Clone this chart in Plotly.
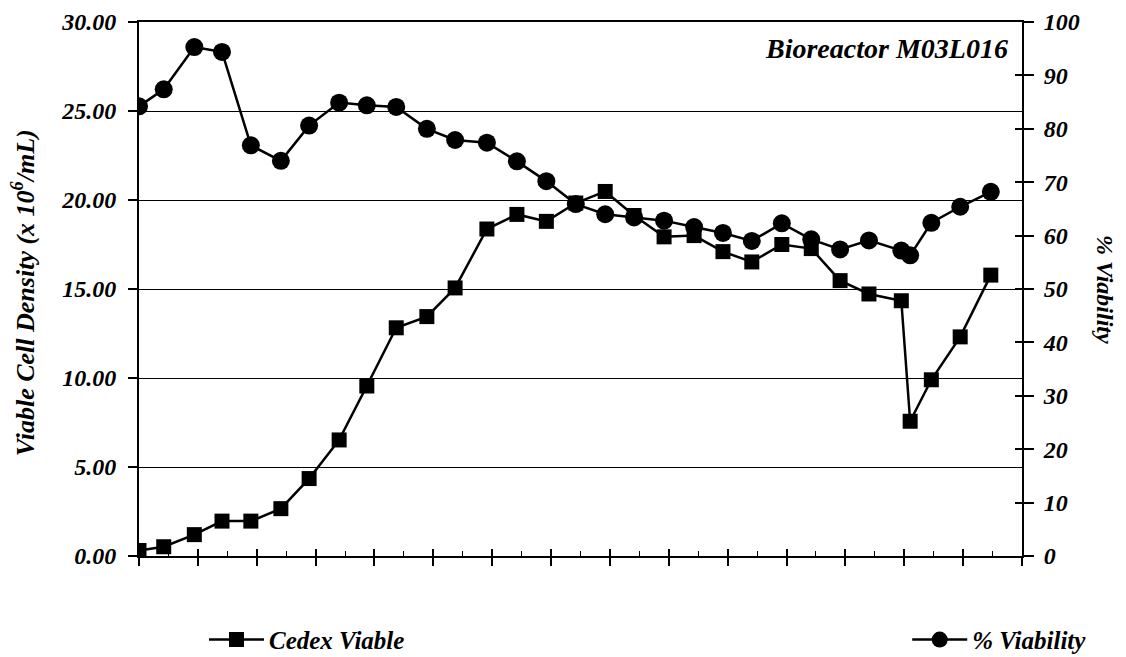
import plotly.graph_objects as go

# Sample times (days)
days = [0.00, 0.42, 0.94, 1.41, 1.90, 2.41, 2.89, 3.40, 3.87, 4.37, 4.89, 5.37,
        5.91, 6.42, 6.92, 7.42, 7.92, 8.41, 8.92, 9.43, 9.92, 10.41, 10.92,
        11.42, 11.91, 12.40, 12.95, 13.10, 13.46, 13.95, 14.47]

# Cedex viable cell density (x 10^6/mL)
cedex_viable = [0.31, 0.52, 1.20, 1.96, 1.96, 2.66, 4.35, 6.52, 9.55, 12.82, 13.45,
                15.06, 18.37, 19.19, 18.80, 19.83, 20.48, 19.13, 17.93, 18.00,
                17.10, 16.52, 17.50, 17.27, 15.47, 14.72, 14.34, 7.57, 9.90,
                12.31, 15.78]

# % Viability
viability = [84.2, 87.4, 95.3, 94.4, 76.9, 74.0, 80.6, 84.9, 84.4, 84.1, 80.0,
             77.9, 77.4, 73.9, 70.2, 65.9, 64.0, 63.4, 62.8, 61.6, 60.5, 59.0,
             62.3, 59.3, 57.4, 59.1, 57.2, 56.3, 62.4, 65.4, 68.2]

left_ticks = [0, 5, 10, 15, 20, 25, 30]
right_ticks = [0, 10, 20, 30, 40, 50, 60, 70, 80, 90, 100]

FONT = "Liberation Serif"


def bi(size):
    return dict(family=FONT, size=size, color="black", weight="bold", style="italic")


fig = go.Figure()
fig.add_trace(go.Scatter(
    x=days, y=cedex_viable, name="Cedex Viable", mode="lines+markers",
    line=dict(color="black", width=2.5),
    marker=dict(symbol="square", size=15, color="black"),
    yaxis="y", legend="legend"))
fig.add_trace(go.Scatter(
    x=days, y=viability, name="% Viability", mode="lines+markers",
    line=dict(color="black", width=2.5),
    marker=dict(symbol="circle", size=18, color="black"),
    yaxis="y2", legend="legend2"))

fig.update_layout(
    width=1118, height=680,
    margin=dict(l=131, r=104, t=14, b=132),
    paper_bgcolor="white", plot_bgcolor="white",
    font=dict(family=FONT, color="black"),
    xaxis=dict(range=[0, 15], dtick=1, tick0=0, showticklabels=False,
               ticks="outside", ticklen=8, tickwidth=1.5, tickcolor="black",
               showline=True, linecolor="black", linewidth=2, mirror=True,
               showgrid=False, zeroline=False, automargin=False,
               minor=dict(dtick=0.5, tick0=0, ticks="inside", ticklen=5,
                          tickwidth=1, tickcolor="black", showgrid=False)),
    xaxis2=dict(range=[0, 15], dtick=1, tick0=0, overlaying="x", anchor="y",
                side="bottom", showticklabels=False, ticks="inside", ticklen=7,
                tickwidth=1.5, tickcolor="black", showline=False,
                showgrid=False, zeroline=False, automargin=False),
    yaxis=dict(range=[0, 30], tickvals=left_ticks,
               ticktext=[f"{v:.2f}" for v in left_ticks],
               tickfont=bi(24), ticks="outside", ticklen=9, tickwidth=1.5,
               ticklabelstandoff=7,
               tickcolor="black", showline=True, linecolor="black", linewidth=2,
               showgrid=True, gridcolor="black", gridwidth=1.2, zeroline=False,
               automargin=False),
    yaxis2=dict(range=[0, 100], tickvals=right_ticks, overlaying="y",
                side="right", anchor="x", tickfont=bi(24), ticks="outside",
                ticklen=10, tickwidth=1.5, tickcolor="black", showline=True,
                ticklabelstandoff=5,
                linecolor="black", linewidth=2, showgrid=False, zeroline=False,
                automargin=False),
    yaxis3=dict(range=[0, 100], tickvals=right_ticks, overlaying="y",
                side="right", anchor="x", showticklabels=False, ticks="inside",
                ticklen=7, tickwidth=1.5, tickcolor="black", showline=False,
                showgrid=False, zeroline=False, automargin=False),
    legend=dict(x=0.0736, y=-0.157, xanchor="left", yanchor="middle",
                orientation="h", itemwidth=55, bgcolor="rgba(0,0,0,0)",
                font=bi(25)),
    legend2=dict(x=0.870, y=-0.157, xanchor="left", yanchor="middle",
                 orientation="h", itemwidth=55, bgcolor="rgba(0,0,0,0)",
                 font=bi(25)),
    showlegend=True,
)

# helper trace to activate the extra overlay axes (crossing tick marks)
fig.add_trace(go.Scatter(x=[None], y=[None], xaxis="x2", yaxis="y3",
                         showlegend=False, hoverinfo="skip"))

fig.add_annotation(text="Bioreactor M03L016", xref="paper", yref="paper",
                   x=0.986, y=0.951, xanchor="right", yanchor="middle",
                   showarrow=False, font=bi(28))
fig.add_annotation(text="Viable Cell Density (x 10<sup>6</sup>/mL)",
                   xref="paper", yref="paper",
                   x=-0.1314, y=0.494, xanchor="center", yanchor="middle",
                   textangle=-90, showarrow=False, font=bi(26))
fig.add_annotation(text="% Viability", xref="paper", yref="paper",
                   x=1.094, y=0.5, xanchor="center", yanchor="middle",
                   textangle=90, showarrow=False, font=bi(24))

fig.write_html("out.html")
